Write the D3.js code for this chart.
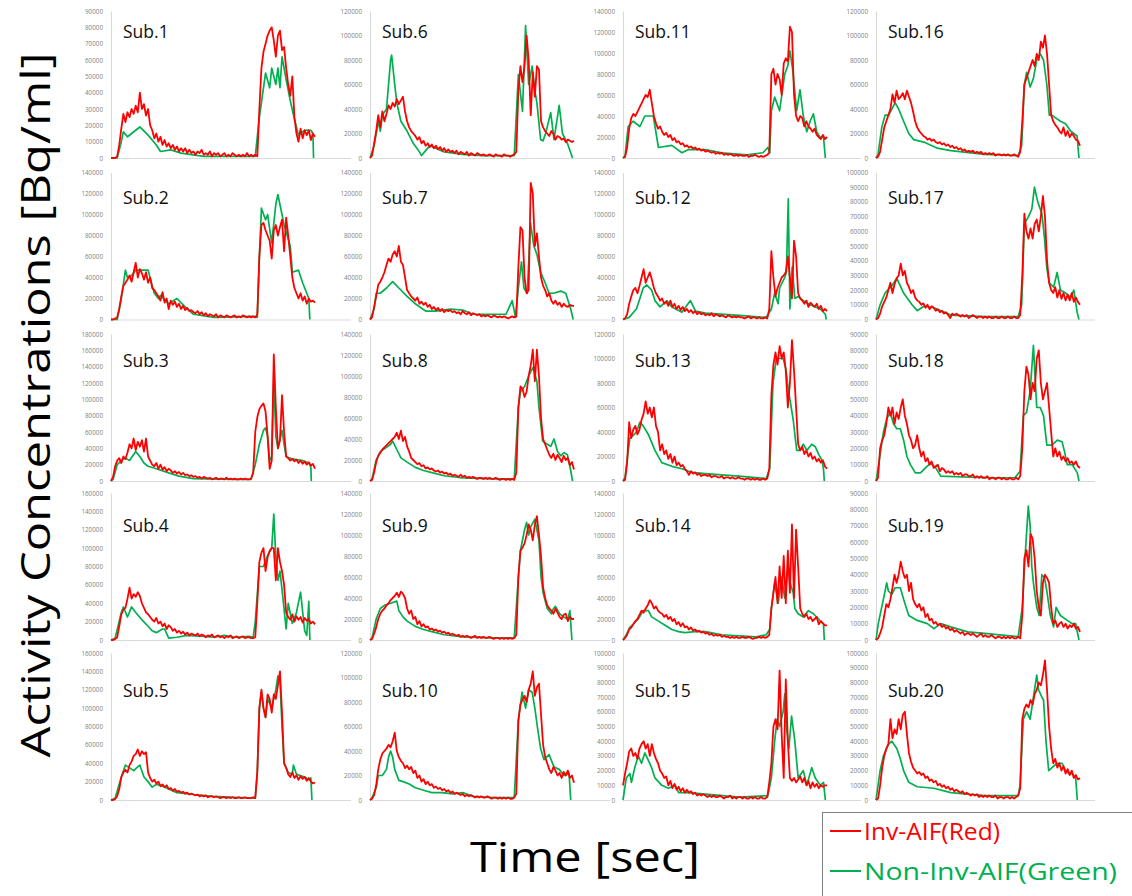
<!DOCTYPE html>
<html><head><meta charset="utf-8">
<script src="https://cdn.jsdelivr.net/npm/d3@7"></script>
<style>body{margin:0;background:#fff}svg{display:block}</style>
</head><body><svg id="c" width="1132" height="896"></svg>
<script>
// ---------- DATA (values in kBq/ml; sample index 0..99) ----------
const subjects = ["Sub.1","Sub.2","Sub.3","Sub.4","Sub.5","Sub.6","Sub.7","Sub.8","Sub.9","Sub.10",
  "Sub.11","Sub.12","Sub.13","Sub.14","Sub.15","Sub.16","Sub.17","Sub.18","Sub.19","Sub.20"];
const yMaxK = [90,140,180,160,160, 120,140,140,140,120, 140,140,120,140,100, 120,100,90,90,100];
const yStepK = [10,20,20,20,20, 20,20,20,20,20, 20,20,20,20,10, 20,10,10,10,10];
const legendLabels = ["Inv-AIF(Red)","Non-Inv-AIF(Green)"];
const xTitle = "Time [sec]";
const yTitle = "Activity Concentrations [Bq/ml]";

const inv1 = [0,0,0,1, 8,18,27, 22,28,25,30,27,32,28,40,30,33,26,30,20,17, 12,15,10,13,8,11,7,9,6,8,5,7,4,6,4,6,3,5,3,4, 2,4,3,5,2,3,2,4,1,3,2,3,1,2,3,1,2,1,3,2,1,2,1,2,1,3,1,2,1,2, 1,30,55,65,70,75,78,80,72,62,75,78,66,68,55,45,38,50,25,15,10,18,12,17,14,17,11,15,13];
const inv2 = [0,0,1,2, 10,22,32, 35,38,42,36,45,54,40,48,44,38,45,35,40,30, 28,25,22,18,26,16,20,10,18,14,17,12,15,10,13,9,11,8,9,7, 6,8,5,7,4,6,3,5,4,3,5,2,4,3,2,4,3,2,3,4,2,3,2,4,3,2,3,2,3,2, 5,60,90,92,85,80,75,58,85,90,80,88,95,65,97,80,60,40,30,25,20,25,18,22,15,20,17,18,16];
const inv3 = [0,5,18,25, 28,22,30, 27,35,45,40,52,38,48,42,50,36,52,30,25,20, 18,22,15,20,14,17,12,15,13,10,12,9,11,8,10,7,8,6,7,5, 6,4,5,3,5,4,3,4,2,3,4,2,3,3,2,4,2,3,2,3,2,2,3,2,3,2,2,3, 10,60,78,88,92,95,85,55,15,25,155,90,40,50,105,60,30,28,25,27,24,26,22,25,21,24,20,23,19,21,15];
const inv4 = [0,0,1,3, 15,28,33, 35,45,57,45,50,47,52,48,40,35,30,28,25,22, 20,24,18,20,15,18,12,16,14,10,12,8,10,7,9,6,8,5,7,6, 5,7,4,6,5,3,5,4,6,3,4,5,3,4,2,4,3,5,2,3,4,2,3,4,2,3,3,2, 2,3,40,85,95,100,75,90,97,100,100,65,100,85,75,60,30,25,22,28,20,26,22,25,19,24,21,23,18,20,17];
const inv5 = [0,0,1,4, 12,25,30, 33,30,38,42,48,50,55,48,53,50,52,30,24,20, 22,18,20,15,17,14,16,12,13,10,12,9,10,8,9,7,8,6,7,6, 5,6,4,5,4,5,3,4,4,3,4,3,2,3,3,2,3,2,3,2,2,3,2,2,3,2,2,2,3,2, 30,100,120,100,90,115,110,95,115,110,125,140,95,40,35,28,25,30,24,27,22,26,23,25,21,24,20,18,19];
const inv6 = [0,2,12,22, 35,25,38, 30,36,43,40,45,42,48,44,47,50,38,30,25,22, 20,18,15,17,12,14,10,12,9,11,8,10,7,9,6,8,5,7,5,6, 4,6,3,5,4,3,5,2,4,3,2,4,3,2,3,2,2,3,2,1,3,2,2,1,3,2,2,1,2,3, 5,55,75,62,75,100,80,35,70,50,75,72,30,25,22,20,18,22,20,15,18,17,15,16,13,15,14,13,14];
const inv7 = [0,2,12,22, 33,36,40, 45,52,58,55,62,65,60,70,55,52,40,28,25,22, 20,18,21,15,17,14,16,12,14,10,12,9,11,8,10,7,9,8,9,7, 8,6,7,5,8,6,5,7,4,6,5,4,5,3,4,3,4,3,2,4,3,2,3,2,3,2,1,2,3,2, 3,50,88,85,40,25,28,130,120,70,82,60,40,32,28,22,25,18,15,18,14,16,12,15,13,12,14,13,13];
const inv8 = [0,1,8,18, 24,27,30, 32,34,36,38,40,42,46,40,48,38,42,33,28,22, 20,18,16,17,14,15,12,13,11,12,10,9,10,8,9,7,8,6,7,5, 6,5,4,6,4,5,3,4,3,4,3,2,3,3,2,3,2,3,2,2,3,2,1,2,2,1,2,1,2,1, 8,70,90,88,80,85,100,110,125,95,125,100,60,40,35,30,25,22,26,20,25,22,18,24,20,22,15,18,11];
const inv9 = [0,1,6,12, 20,25,28, 30,33,35,38,40,42,45,41,46,44,40,30,25,28, 20,22,15,18,13,15,12,13,10,11,9,10,8,9,7,8,6,7,5,6, 5,4,5,3,4,3,4,3,2,3,4,2,3,2,3,2,2,3,2,1,2,2,1,2,1,2,1,2,1,2, 5,60,85,88,92,100,110,105,95,110,118,100,80,50,40,33,30,28,25,30,26,22,20,24,25,18,22,20,20];
const inv10 = [0,1,4,12, 25,33,38, 40,42,45,43,48,55,40,35,32,30,26,28,25,27, 22,24,18,20,15,17,13,15,12,13,10,11,9,10,8,9,7,8,6,7, 5,6,5,4,5,3,4,3,4,3,2,3,2,3,2,2,3,2,1,2,2,1,2,1,2,1,2,1,1,2, 5,65,78,82,85,80,90,95,105,85,92,95,70,45,35,30,25,22,27,24,20,22,18,23,20,24,18,20,14];
const inv11 = [0,1,10,28, 38,42,40, 44,48,52,56,60,58,65,52,40,33,28,30,25,22, 24,20,22,17,19,15,16,13,14,11,12,10,11,9,10,8,9,7,8,6, 7,6,5,6,4,5,4,5,3,4,3,4,3,2,3,2,3,2,2,3,1,2,2,3,2,1,2,1,2,3, 5,80,85,70,80,75,60,90,95,92,125,120,60,40,35,40,38,30,35,30,28,25,28,22,20,18,22,18,20];
const inv12 = [0,1,5,15, 22,28,30, 25,32,40,48,35,40,45,38,30,25,22,18,20,15, 17,13,18,12,15,10,13,9,12,8,10,7,9,6,8,5,7,5,6,4, 5,4,6,3,5,4,3,4,3,2,4,3,2,3,2,3,2,2,1,2,3,1,2,2,1,2,1,1,2,1, 10,65,40,22,30,35,40,42,45,60,40,20,75,60,25,20,18,15,18,12,16,14,12,15,10,13,8,10,8];
const inv13 = [0,1,15,48, 35,42,45, 38,42,50,55,65,55,60,52,60,45,40,25,30,22, 25,18,22,15,20,13,15,12,13,10,8,5,8,6,7,5,6,4,5,5, 4,5,3,4,4,3,3,4,2,3,3,2,3,2,2,3,2,2,1,2,2,1,2,1,2,1,1,2,1,2, 10,70,95,105,95,110,100,105,90,60,80,115,90,60,30,25,28,22,25,20,23,18,20,16,18,15,17,12,10];
const inv14 = [0,2,5,10, 12,15,18, 20,24,28,26,30,33,38,35,30,32,28,26,25,22, 24,20,22,18,20,15,17,13,16,12,13,10,12,9,10,8,9,7,8,6, 7,5,6,4,5,4,5,3,4,3,3,2,3,2,3,2,2,3,2,2,3,2,1,2,2,3,2,3,2,3, 5,30,45,60,35,70,40,80,35,85,45,110,40,105,70,30,25,22,25,20,22,18,20,22,15,18,16,14,14];
const inv15 = [10,18,25,33, 35,30,32, 28,35,38,40,35,38,30,38,32,28,25,20,18,15, 16,10,13,8,11,7,9,6,8,5,7,5,6,4,5,3,4,3,4,3, 2,3,2,3,2,2,3,2,1,2,2,3,1,2,1,2,2,1,2,1,1,2,1,2,1,1,2,1,1,2, 12,25,50,55,48,88,45,15,82,40,15,13,15,12,14,16,12,15,10,13,8,12,9,11,8,10,9,10,10];
const inv16 = [0,1,5,15, 25,30,35, 40,52,45,55,48,50,53,48,55,50,45,38,30,25, 22,20,18,17,15,16,14,15,13,12,13,11,12,10,11,9,10,8,9,7, 8,6,7,5,6,5,6,4,5,4,5,3,4,3,4,3,4,2,3,3,2,3,2,3,2,2,3,2,1,5, 30,60,65,70,75,80,75,85,80,95,90,100,85,60,35,30,27,25,22,20,25,18,22,17,20,18,15,14,10];
const inv17 = [0,1,4,9, 12,15,20, 25,18,24,28,30,38,30,33,25,22,18,20,15,13, 12,10,11,8,10,7,9,8,6,7,5,6,4,5,3,1,4,3,4,3, 2,3,2,3,1,2,3,2,1,2,2,1,2,1,2,1,1,2,1,1,2,1,1,2,1,1,2,1,1,3, 30,72,60,55,62,55,65,68,60,70,84,70,40,25,20,18,22,15,20,14,18,13,17,13,18,12,15,12,10];
const inv18 = [0,2,20,25, 28,35,45, 40,45,35,42,38,45,50,40,35,28,25,20,22,28, 20,15,18,12,14,10,12,8,9,10,6,8,7,5,6,5,6,4,5,4, 5,3,4,4,3,3,4,2,3,2,3,2,2,3,1,2,2,1,2,2,1,2,1,1,2,1,1,2,1,3, 20,55,70,65,50,60,55,75,80,60,50,55,60,45,30,15,20,15,18,13,15,12,14,11,12,10,12,9,8];
const inv19 = [0,1,4,8, 15,22,20, 25,32,40,35,40,48,42,38,40,30,35,25,22,20, 22,18,20,14,16,12,13,10,11,9,10,8,9,7,8,6,7,5,6,5, 4,5,3,4,4,3,4,3,2,3,4,2,3,2,2,3,2,1,2,2,1,2,1,2,1,2,1,1,2,1, 15,50,55,45,65,62,50,30,20,15,35,40,38,35,20,10,12,8,10,11,8,10,7,9,8,10,7,8,5];
const inv20 = [0,1,10,22, 30,35,38, 55,42,48,45,55,48,58,60,45,32,26,22,20,18, 19,17,18,15,16,13,14,12,13,10,11,9,10,8,9,7,8,6,7,6, 5,6,4,5,4,3,4,3,4,2,3,2,3,2,3,2,2,3,1,2,2,1,2,2,1,2,1,2,3,8, 55,62,65,63,68,65,72,75,80,78,85,95,75,50,35,25,28,22,25,20,23,18,21,17,20,15,17,14,15];

const non1 = [[0,0],[3,0],[5,10],[6,16],[8,13],[14,19],[18,14],[22,8],[24,4],[29,5],[34,3],[45,1],[70,1],[72,25],[74,43],[75,52],[77,43],[78,55],[80,45],[81,55],[82,43],[83,62],[85,48],[87,35],[89,24],[91,14],[94,17],[97,17],[98,15],[98.3,0]];
const non2 = [[0,0],[3,0],[5,20],[7,47],[8,40],[10,42],[12,47],[18,47],[21,25],[23,20],[24,23],[28,15],[32,20],[36,12],[40,5],[50,2],[69,3],[71,2],[72,60],[73,106],[75,95],[76,100],[78,73],[80,110],[81,119],[83,100],[84,90],[87,70],[88,45],[91,47],[93,35],[95,25],[96,20],[96.5,0]];
const non3 = [[0,0],[1,2],[3,20],[5,25],[7,28],[9,25],[12,36],[14,30],[16,22],[18,18],[22,15],[28,10],[33,6],[40,3],[60,2],[68,2],[70,20],[72,45],[74,62],[75,65],[76,55],[77,25],[78,30],[79,125],[80,55],[81,40],[83,62],[84,45],[85,30],[88,27],[93,25],[96,22],[97,17],[97.2,0]];
const non4 = [[0,0],[2,2],[5,30],[6,36],[8,25],[10,36],[12,30],[15,22],[18,15],[20,10],[22,8],[25,12],[26,12],[28,2],[32,3],[37,5],[45,4],[50,3],[55,5],[60,3],[67,4],[69,3],[70,20],[72,80],[74,80],[76,92],[78,100],[79,137],[80,90],[81,65],[82,75],[83,55],[85,12],[86,40],[88,18],[90,30],[92,52],[94,10],[95,5],[96,42],[96.5,0]];
const non5 = [[0,0],[2,2],[5,25],[7,38],[9,35],[11,32],[13,36],[14,38],[16,25],[18,20],[20,14],[22,17],[24,16],[28,12],[32,8],[40,6],[50,4],[60,3],[70,2],[71,30],[72,100],[73,118],[74,100],[75,90],[76,110],[78,100],[80,120],[81,135],[82,130],[83,80],[84,40],[86,30],[88,28],[88.5,38],[90,28],[94,25],[96,22],[97,24],[97.5,0]];
const non6 = [[0,0],[2,10],[4,30],[5,22],[6,35],[8,40],[10,80],[10.5,84],[12,60],[13,45],[15,30],[18,22],[21,12],[24,5],[25,2],[27,6],[29,10],[32,8],[36,5],[45,3],[55,2],[70,2],[72,68],[74,38],[75.5,108],[77,60],[78.7,75],[80,55],[81,45],[82.8,15],[84,14],[85.2,20],[87.7,37],[89.3,15],[91.8,43],[93.4,20],[95.8,12],[98.3,0]];
const non7 = [[0,0],[2,10],[3,25],[5,25],[8,30],[11,36],[14,30],[18,22],[22,15],[27,8],[32,8],[39,10],[45,9],[50,5],[60,5],[66,5],[69,18],[70.6,2],[72,30],[73.5,55],[74.7,30],[76.3,25],[77.9,92],[79.5,70],[81,62],[82.8,45],[85,35],[86.9,25],[89,25],[92.6,27],[95,25],[97.4,10],[98.6,0]];
const non8 = [[0,0],[1,2],[3,20],[5,28],[8,32],[10,35],[11,38],[13,30],[15,22],[18,18],[22,13],[26,10],[30,8],[36,5],[45,3],[60,2],[70,2],[72,70],[73,85],[75,90],[77,100],[79,108],[80,102],[81,95],[82,70],[83.8,38],[86,35],[87.7,33],[89.3,40],[91,28],[92.6,24],[94.2,27],[95.8,25],[97.4,10],[98.3,0]];
const non9 = [[0,0],[1,2],[3,20],[5,30],[7,33],[10,35],[13,37],[14,28],[16,22],[18,18],[22,13],[26,10],[30,8],[36,5],[45,3],[60,2],[70,2],[72,60],[73,85],[75,105],[76,112],[77,100],[78,108],[80,115],[81,105],[82,95],[83,60],[84,45],[86,30],[88,25],[89,30],[90,32],[92,25],[94,22],[96,20],[97,28],[98,0]];
const non10 = [[0,0],[1,2],[3,10],[4,20],[6,20],[8,25],[9,35],[10,40],[11,35],[12,25],[14,16],[16,15],[19,13],[22,10],[26,8],[30,6],[35,6],[40,5],[45,6],[50,3],[60,2],[70,2],[72,65],[73.8,88],[75.5,75],[77,90],[78.7,88],[80,75],[81.2,60],[82.8,42],[84.4,33],[86.9,37],[89.3,27],[91.8,25],[94.2,20],[96.6,22],[97.4,0]];
const non11 = [[0,0],[1,2],[2.5,30],[4.9,35],[8.2,30],[10.6,40],[14.7,40],[17.2,10],[23.7,12],[28.6,5],[31.9,8],[40,8],[48,5],[60,3],[67.9,5],[70.3,10],[71.2,5],[72,45],[73.6,58],[76,45],[78.5,80],[80,88],[81,102],[82.3,85],[84.3,45],[85.9,65],[87.5,40],[89.2,25],[90.8,35],[92.4,42],[94,25],[95.5,20],[97.3,20],[98.2,0]];
const non12 = [[0,0],[3,2],[6.5,10],[8.2,20],[9.8,30],[11.5,33],[13.9,28],[15.5,18],[18,12],[21.3,18],[23.7,12],[28.6,7],[32.7,18],[35.2,8],[40,6],[56.4,4],[69.5,2],[72,10],[73.6,25],[75.3,15],[76,30],[78.5,40],[79.3,45],[80.2,115],[81,10],[82.1,50],[83.4,20],[85,22],[87.5,18],[90.8,14],[95.7,10],[98.2,5],[98.6,0]];
const non13 = [[0,0],[1,3],[3.3,35],[4.9,37],[6.5,40],[8.2,48],[9.8,45],[12.3,38],[15.5,25],[18.8,15],[23.7,12],[28.6,10],[33.5,7],[40,6],[48,5],[56.4,4],[69.5,2],[71.2,10],[72.8,80],[74.4,100],[77.7,100],[79,92],[80.2,75],[82.6,50],[84.3,25],[85.9,25],[87.5,30],[89.2,25],[91.6,30],[93.3,28],[94.9,22],[96.5,17],[97.3,10],[97.7,0]];
const non14 = [[0,0],[1.6,5],[3.3,12],[4.9,15],[7.4,20],[9.8,28],[12.3,28],[13.9,22],[17.2,18],[20.4,14],[23.7,10],[27,8],[30,7],[35,8],[40,8],[48,5],[64.6,3],[69.5,5],[71.2,10],[72,30],[73.6,55],[75.3,35],[76.9,60],[78.5,40],[80.2,70],[81,55],[82.6,45],[83.4,30],[85,25],[87.5,22],[90,28],[92.4,25],[94.9,20],[97.3,15],[97.7,0]];
const non15 = [[0,0],[1.6,15],[3.3,18],[4.1,12],[5.7,22],[7.4,30],[9,25],[10.6,32],[12.3,27],[13.9,22],[15.5,15],[18.8,10],[22.1,8],[25.4,10],[27,5],[31.9,5],[40,4],[56.4,2],[70.3,3],[72,15],[73.6,40],[74.8,55],[76,50],[77.7,60],[78.5,72],[79.3,50],[80.5,35],[81.8,57],[83.4,40],[85,15],[87.5,20],[89.2,10],[91.6,22],[93.3,15],[95.7,10],[97.3,12],[98.2,0]];
const non16 = [[0,0],[1,3],[2.8,25],[4.4,35],[6.1,35],[7.7,40],[9.3,45],[11,40],[13.4,30],[15.9,20],[18.3,15],[23.2,13],[29.8,8],[36.3,6],[52.7,3],[69,2],[70.7,10],[72,60],[73.1,70],[74.8,58],[76.4,65],[78,80],[79.7,85],[81.3,80],[82.9,60],[84.1,35],[85.4,35],[87,33],[89.5,30],[92,28],[94.4,22],[96,20],[97.6,18],[98.5,0]];
const non17 = [[0,0],[2,10],[4.4,18],[7.7,23],[10.1,28],[13.4,18],[17.5,10],[20,6],[23.2,9],[28.1,8],[33,5],[36.3,3],[52.7,2],[69,2],[70.7,10],[72,65],[74,70],[75.6,75],[76.9,90],[78.5,80],[80.5,72],[81.8,55],[82.9,35],[84.1,25],[86.2,22],[87.9,32],[89.5,20],[92,18],[94.4,15],[96,20],[97.6,5],[98.5,0]];
const non18 = [[0,0],[0.3,2],[3.6,30],[5.2,38],[6.9,42],[8.5,35],[10.1,32],[11.8,32],[13.4,25],[15,15],[16.7,10],[19.1,5],[21.6,5],[24,8],[26.5,11],[29,8],[31.4,3],[52.7,2],[67.4,2],[69.9,6],[71.5,40],[73.1,42],[74.8,55],[76.4,83],[78,45],[79.7,45],[81.3,40],[82.9,22],[85.4,22],[88,25],[90.3,24],[91.5,18],[92.8,10],[95.2,10],[97.7,5],[98.5,0]];
const non19 = [[0,0],[1.1,10],[3.6,25],[5.2,35],[6,30],[7.7,28],[9.3,32],[11.8,32],[13.4,25],[15.9,15],[20,12],[24.9,10],[28.1,7],[31.4,10],[36.3,8],[44.5,5],[52.7,4],[69,2],[71,20],[72.3,50],[73.9,82],[74.8,70],[75.6,45],[76.4,35],[78,20],[79.2,15],[80.5,40],[81.8,38],[82.9,30],[84.6,15],[86.2,8],[87.4,20],[89.5,15],[92.8,12],[95.2,10],[96.9,10],[98.5,0]];
const non20 = [[0,0],[2,20],[3.6,30],[6.1,38],[7.7,40],[10.1,35],[11.8,28],[13.4,20],[15.9,12],[20,9],[28.1,8],[36.3,5],[52.7,3],[69,3],[69.9,10],[71.5,55],[73.1,60],[74.8,55],[76.4,70],[78,85],[78.9,75],[80.5,70],[81.3,68],[82.5,40],[83.8,20],[85.4,22],[87.9,25],[90.3,25],[92,20],[93.6,18],[95.2,18],[96.9,15],[97.7,0]];

const invSeries = [inv1,inv2,inv3,inv4,inv5,inv6,inv7,inv8,inv9,inv10,inv11,inv12,inv13,inv14,inv15,inv16,inv17,inv18,inv19,inv20];
const nonSeries = [non1,non2,non3,non4,non5,non6,non7,non8,non9,non10,non11,non12,non13,non14,non15,non16,non17,non18,non19,non20];

// ---------- LAYOUT ----------
const colX = [111, 370, 623, 876];
const rowTop = [11, 172.5, 334, 493, 653];
const plotH = 147;
const dataW = 204;
const baseLen = [240, 240, 238, 219];
const labelBase = [38, 204, 367, 532, 697];
const RED = "#ff0000", GREEN = "#00b050", AXIS = "#d9d9d9";

const svg = d3.select("#c");
const fmt = d3.format("d");

subjects.forEach((name, i) => {
  const c = Math.floor(i / 5), r = i % 5;
  const x0 = colX[c], y0 = rowTop[r];
  const x = d3.scaleLinear().domain([0, 99]).range([x0, x0 + dataW]);
  const y = d3.scaleLinear().domain([0, yMaxK[i]]).range([y0 + plotH, y0]);
  const g = svg.append("g");

  const ticks = d3.range(0, yMaxK[i] + 0.001, yStepK[i]);
  const ax = g.append("g").attr("transform", `translate(${x0},0)`)
    .call(d3.axisLeft(y).tickValues(ticks).tickSize(0).tickSizeOuter(0).tickPadding(8)
      .tickFormat(d => fmt(d * 1000)));
  ax.select(".domain").attr("stroke", AXIS).attr("stroke-width", 1);
  ax.selectAll("text").attr("font-family", "'Open Sans', sans-serif").attr("font-size", 6.3).attr("fill", "#7f7f7f");

  g.append("line").attr("x1", x0).attr("x2", x0 + baseLen[c])
    .attr("y1", y(0) + 0.5).attr("y2", y(0) + 0.5).attr("stroke", AXIS).attr("stroke-width", 1);

  const lineG = d3.line().x(d => x(d[0])).y(d => y(d[1]));
  g.append("path").datum(nonSeries[i]).attr("d", lineG)
    .attr("fill", "none").attr("stroke", GREEN).attr("stroke-width", 1.7).attr("stroke-linejoin", "round");
  const lineR = d3.line().x((d, k) => x(k)).y(d => y(d));
  g.append("path").datum(invSeries[i]).attr("d", lineR)
    .attr("fill", "none").attr("stroke", RED).attr("stroke-width", 1.8).attr("stroke-linejoin", "round");

  g.append("text").attr("x", x0 + 12).attr("y", labelBase[r]).text(name)
    .attr("font-family", "'Open Sans', sans-serif").attr("font-size", 17.5).attr("fill", "#111");
});

// axis titles
svg.append("text").attr("transform", "translate(50,405) rotate(-90)")
  .attr("text-anchor", "middle").attr("font-family", "'Open Sans', sans-serif")
  .attr("font-size", 40).attr("textLength", 705).attr("lengthAdjust", "spacingAndGlyphs")
  .attr("fill", "#000").text(yTitle);
svg.append("text").attr("x", 585).attr("y", 872).attr("text-anchor", "middle")
  .attr("font-family", "'Open Sans', sans-serif").attr("font-size", 42)
  .attr("textLength", 230).attr("lengthAdjust", "spacingAndGlyphs").attr("fill", "#000").text(xTitle);

// legend
const lg = svg.append("g");
lg.append("rect").attr("x", 822.5).attr("y", 812.5).attr("width", 330).attr("height", 100)
  .attr("fill", "#fff").attr("stroke", "#808080").attr("stroke-width", 1);
const legColors = [RED, GREEN];
const legW = [136, 253];
legendLabels.forEach((t, k) => {
  const yy = 831 + k * 40;
  lg.append("line").attr("x1", 830).attr("x2", 861).attr("y1", yy).attr("y2", yy)
    .attr("stroke", legColors[k]).attr("stroke-width", 2);
  lg.append("text").attr("x", 864).attr("y", yy + 9).text(t)
    .attr("font-family", "'Open Sans', sans-serif").attr("font-size", 23)
    .attr("textLength", legW[k]).attr("lengthAdjust", "spacingAndGlyphs")
    .attr("fill", legColors[k]);
});
</script></body></html>
